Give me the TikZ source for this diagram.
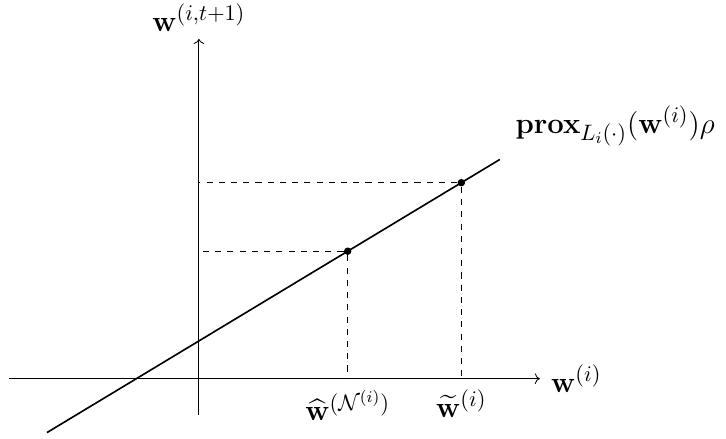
\documentclass[tikz,border=0pt]{standalone}
\usepackage{amsmath}
\usepackage{tikz}
\usetikzlibrary{arrows.meta, positioning, calc}

\begin{document}
\begin{tikzpicture}[
        every node/.style={font=\fontsize{15.2}{18}\selectfont},
        axis/.style={->},
        proxline/.style={thick},
        guide/.style={dashed},
        dot/.style={circle, fill, inner sep=1.3pt}
    ]
        \useasboundingbox (-3.43,-1.03) rectangle (9.09,6.53);

        % Axes
        \coordinate (o) at (0,0);
        \coordinate (xmin) at (-3.28,0);
        \coordinate (xmax) at (5.88,0);
        \coordinate (ymin) at (0,-0.62);
        \coordinate (ymax) at (0,5.86);
        \draw[axis] (xmin) -- (xmax) node[right, xshift=2pt] (xlab) {$\mathbf{w}^{(i)}$};
        \draw[axis] (ymin) -- (ymax) node[above] (ylab) {$\mathbf{w}^{(i,t+1)}$};

        % Prox line
        \coordinate (lstart) at (-2.62,-0.93);
        \coordinate (lend) at (5.19,3.78);
        \draw[proxline] (lstart) -- (lend) node[above right, xshift=4pt, yshift=3pt] (proxlab) {$\mathbf{prox}_{L_i(\cdot)}(\mathbf{w}^{(i)})\rho$};

        % Points on the line
        \node[dot] (hat) at ($(lstart)!0.664!(lend)$) {};
        \node[dot] (tilde) at ($(lstart)!0.915!(lend)$) {};

        % Projections
        \coordinate (hatx) at (hat |- o);
        \coordinate (haty) at (hat -| o);
        \coordinate (tildex) at (tilde |- o);
        \coordinate (tildey) at (tilde -| o);
        \draw[guide] (hat) -- (hatx);
        \draw[guide] (hat) -- (haty);
        \draw[guide] (tilde) -- (tildex);
        \draw[guide] (tilde) -- (tildey);

        \node[below=2pt of hatx] (hatlab) {$\widehat{\mathbf{w}}^{(\mathcal{N}^{(i)})}$};
        \node[below=2pt of tildex] (tildelab) {$\widetilde{\mathbf{w}}^{(i)}$};
    \end{tikzpicture}
\end{document}
